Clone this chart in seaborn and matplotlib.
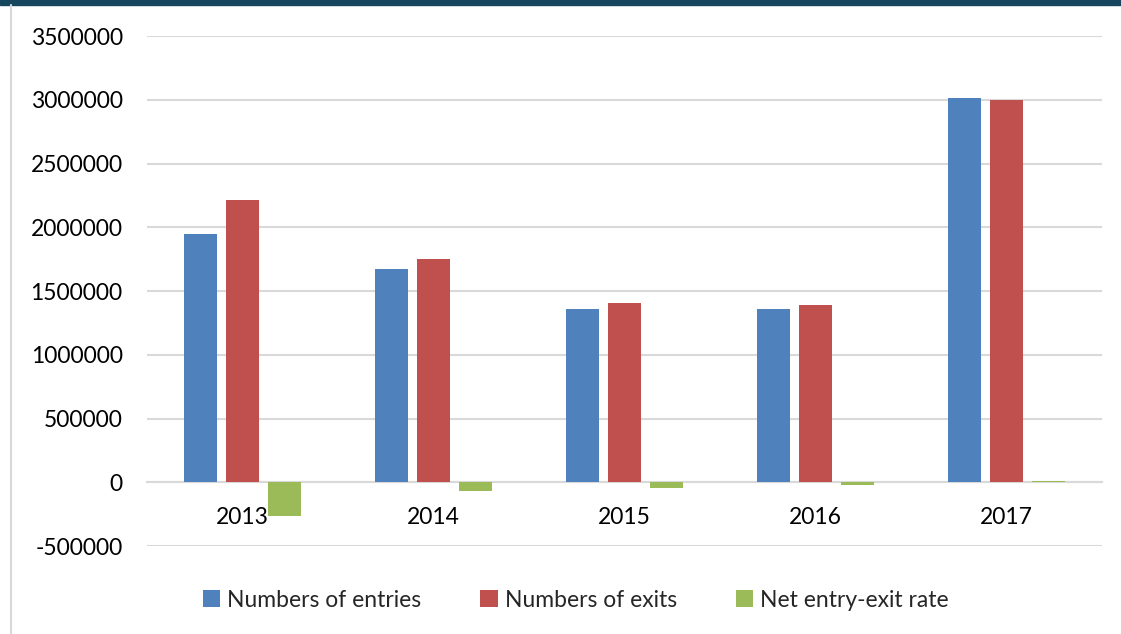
import numpy as np
import pandas as pd
import seaborn as sns
import matplotlib.pyplot as plt
from matplotlib.patches import Rectangle
from matplotlib.lines import Line2D

years = ['2013', '2014', '2015', '2016', '2017']
entries = [1945000, 1672000, 1357000, 1357000, 3012000]
exits = [2212000, 1748000, 1403000, 1388000, 2996000]
net_rate = [-262000, -70000, -45000, -18000, 12000]
series = ['Numbers of entries', 'Numbers of exits', 'Net entry-exit rate']
colors = ['#4F81BD', '#C0504D', '#9BBB59']

df = pd.DataFrame({
    'year': years * 3,
    'value': entries + exits + net_rate,
    'series': [s for s in series for _ in years],
})

sns.set_style('white')
plt.rcParams['font.family'] = ['Lato', 'DejaVu Sans']

fig = plt.figure(figsize=(11.21, 6.34), dpi=100)
ax = fig.add_axes([0.1311, 0.1388, 0.852, 0.8044])

sns.barplot(data=df, x='year', y='value', hue='series', palette=colors,
            width=0.66, gap=0.21, ax=ax, saturation=1, legend=True,
            linewidth=0)

ax.set_ylim(-500000, 3500000)
ax.set_yticks(np.arange(-500000, 3500001, 500000))
ax.set_yticklabels([str(v) for v in np.arange(-500000, 3500001, 500000)])
ax.yaxis.grid(True, color='#d9d9d9', linewidth=1.5)
ax.set_axisbelow(True)
ax.set_xlabel('')
ax.set_ylabel('')

for side in ['top', 'right', 'left']:
    ax.spines[side].set_visible(False)
ax.spines['bottom'].set_position(('data', 0))
ax.spines['bottom'].set_color('#d9d9d9')
ax.spines['bottom'].set_linewidth(1.5)
ax.spines['bottom'].set_zorder(0.5)

ax.tick_params(axis='y', length=0, pad=17.5, labelsize=16.5, labelcolor='black')
ax.tick_params(axis='x', length=0, pad=18, labelsize=16.5, labelcolor='black')

handles, labels = ax.get_legend_handles_labels()
ax.legend(handles, labels, loc='upper center', bbox_to_anchor=(0.449, -0.045),
          ncol=3, frameon=False, fontsize=16.5, handlelength=0.75,
          handleheight=0.75, handletextpad=0.3, columnspacing=2.6)

# slide frame: dark band on top, thin gray rule on left
fig.patches.append(Rectangle((0, 1 - 5 / 634), 1, 5 / 634, transform=fig.transFigure,
                             color='#17465f', zorder=0))
fig.lines.append(Line2D([10.5 / 1121, 10.5 / 1121], [0, 1 - 5 / 634],
                        transform=fig.transFigure, color='#d9d9d9', linewidth=1.5))

fig.savefig('out.png', dpi=100)
